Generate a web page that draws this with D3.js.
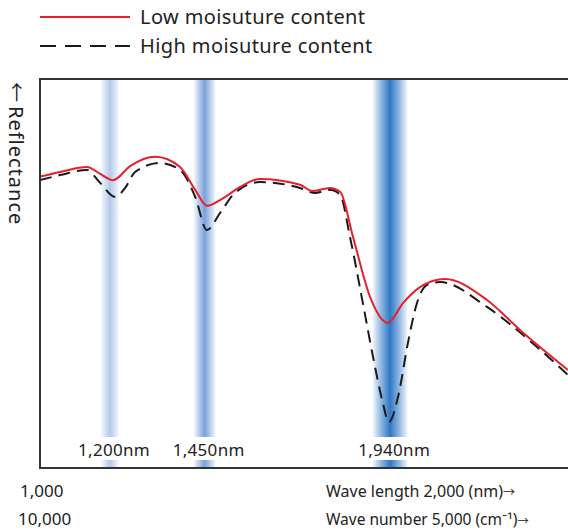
<!DOCTYPE html>
<html>
<head>
<meta charset="utf-8">
<script src="https://cdnjs.cloudflare.com/ajax/libs/d3/7.8.5/d3.min.js"></script>
<style>
  html, body { margin: 0; padding: 0; background: #fff; }
  svg { display: block; }
  text { font-family: "Noto Sans", sans-serif; fill: #222; }
  .arrow { font-family: "Noto Sans CJK JP", sans-serif; }
</style>
</head>
<body>
<div class="chart-container"></div>
<script>
//! DATA (wavelength in nm, reflectance in arbitrary %)
const lowNm = [1015, 1068, 1139, 1174, 1208, 1253, 1319, 1385, 1425, 1456, 1496, 1543, 1596, 1702, 1734, 1781, 1808, 1842, 1887, 1934, 1974, 2019, 2085, 2196, 2283, 2410];
const lowRefl = [74.9, 76.1, 77.4, 75.6, 74.0, 77.6, 80.0, 77.4, 71.5, 67.4, 69.2, 72.2, 74.3, 72.8, 71.2, 72.0, 71.0, 59.4, 44.0, 37.3, 42.4, 46.5, 48.6, 43.2, 35.5, 25.2];

const highNm = [1015, 1068, 1139, 1174, 1213, 1240, 1266, 1332, 1385, 1425, 1456, 1491, 1530, 1596, 1702, 1742, 1781, 1808, 1834, 1868, 1895, 1919, 1937, 1961, 1987, 2011, 2037, 2072, 2196, 2328, 2410];
const highRefl = [74.0, 75.3, 76.6, 73.3, 69.7, 72.0, 76.1, 78.4, 76.6, 69.7, 61.2, 65.6, 70.7, 73.5, 72.0, 70.7, 71.5, 70.2, 59.4, 42.4, 28.5, 17.5, 11.8, 18.3, 32.1, 42.4, 47.0, 47.8, 41.4, 31.1, 23.9];

const bandNm = [1200, 1450, 1940];
const bandLabels = ['1,200nm', '1,450nm', '1,940nm'];

const seriesNames = ['Low moisuture content', 'High moisuture content'];
const xTickLabels = ['1,000', 'Wave length 2,000 (nm)'];
const x2TickLabels = ['10,000', 'Wave number 5,000 (cm⁻¹)'];

//! CONSTS
const width = 568;
const height = 532;
const plot = { left: 40, top: 79, right: 568, bottom: 468 };
const bandWidths = [19, 22, 35];
const bandColors = ['#b3c9ea', '#7aa2d9', '#2f78c6'];

//! SVG
const svg = d3.select('.chart-container')
  .append('svg')
  .attr('width', width)
  .attr('height', height);

const xScale = d3.scaleLinear()
  .domain([1015, 2410])
  .range([plot.left, plot.right]);

const yScale = d3.scaleLinear()
  .domain([0, 100])
  .range([plot.bottom, plot.top]);

//! BAND GRADIENTS
const defs = svg.append('defs');
bandColors.forEach((c, i) => {
  const g = defs.append('linearGradient')
    .attr('id', `band${i}`)
    .attr('x1', '0%').attr('x2', '100%')
    .attr('y1', '0%').attr('y2', '0%');
  [[0, 0.05], [0.25, 0.55], [0.5, 1], [0.75, 0.55], [1, 0.05]].forEach(([o, a]) => {
    g.append('stop')
      .attr('offset', `${o * 100}%`)
      .attr('stop-color', c)
      .attr('stop-opacity', a);
  });
});

svg.selectAll('.band')
  .data(bandNm)
  .enter()
  .append('rect')
  .attr('class', 'band')
  .attr('x', (d, i) => xScale(d) - bandWidths[i] / 2)
  .attr('y', plot.top)
  .attr('width', (d, i) => bandWidths[i])
  .attr('height', plot.bottom - plot.top)
  .attr('fill', (d, i) => `url(#band${i})`);

//! BAND LABELS
const labelG = svg.selectAll('.band-label')
  .data(bandNm)
  .enter()
  .append('g')
  .attr('class', 'band-label')
  .attr('transform', (d) => `translate(${xScale(d) + 4}, 456)`);

labelG.append('rect')
  .attr('x', -39).attr('y', -19)
  .attr('width', 78).attr('height', 23)
  .attr('fill', '#fff');

labelG.append('text')
  .attr('text-anchor', 'middle')
  .attr('font-size', 17)
  .attr('letter-spacing', 0.3)
  .text((d, i) => bandLabels[i]);

//! CURVES
const line = d3.line()
  .x((d) => xScale(d[0]))
  .y((d) => yScale(d[1]))
  .curve(d3.curveMonotoneX);

const clip = defs.append('clipPath').attr('id', 'plotclip');
clip.append('rect')
  .attr('x', plot.left).attr('y', plot.top)
  .attr('width', plot.right - plot.left).attr('height', plot.bottom - plot.top);

svg.append('path')
  .datum(d3.zip(highNm, highRefl))
  .attr('clip-path', 'url(#plotclip)')
  .attr('fill', 'none')
  .attr('stroke', '#1a1a1a')
  .attr('stroke-width', 2)
  .attr('stroke-dasharray', '12,7')
  .attr('d', line);

svg.append('path')
  .datum(d3.zip(lowNm, lowRefl))
  .attr('clip-path', 'url(#plotclip)')
  .attr('fill', 'none')
  .attr('stroke', '#e6202a')
  .attr('stroke-width', 2)
  .attr('d', line);

//! FRAME
svg.append('path')
  .attr('d', `M${plot.right},${plot.top}H${plot.left}V${plot.bottom}H${plot.right}`)
  .attr('fill', 'none')
  .attr('stroke', '#333')
  .attr('stroke-width', 2);

//! AXIS TEXT
const addLabel = (x, y, size, str, arrow) => {
  const t = svg.append('text')
    .attr('x', x).attr('y', y)
    .attr('font-size', size)
    .text(str);
  if (arrow) t.append('tspan').attr('class', 'arrow').attr('font-size', size - 4).text('→');
};
addLabel(20, 497, 17, xTickLabels[0], false);
addLabel(326, 497, 16, xTickLabels[1], true);
addLabel(18, 525, 17, x2TickLabels[0], false);
addLabel(326, 525, 15.5, x2TickLabels[1], true);

const yLab = svg.append('text')
  .attr('transform', 'translate(9, 82) rotate(90)')
  .attr('font-size', 20);
yLab.append('tspan').attr('class', 'arrow').text('←');
yLab.append('tspan').attr('dx', 4).attr('letter-spacing', 1).text('Reflectance');

//! LEGEND
const legend = svg.selectAll('.legend')
  .data(seriesNames)
  .enter()
  .append('g')
  .attr('class', 'legend')
  .attr('transform', (d, i) => `translate(40, ${17 + i * 29})`);

legend.append('line')
  .attr('x1', 0).attr('x2', 90)
  .attr('stroke', (d, i) => i === 0 ? '#e6202a' : '#1a1a1a')
  .attr('stroke-width', 2)
  .attr('stroke-dasharray', (d, i) => i === 0 ? null : '16,9');

legend.append('text')
  .attr('x', 100).attr('y', 7)
  .attr('font-size', 20)
  .attr('letter-spacing', 0.4)
  .text((d) => d);
</script>
</body>
</html>
